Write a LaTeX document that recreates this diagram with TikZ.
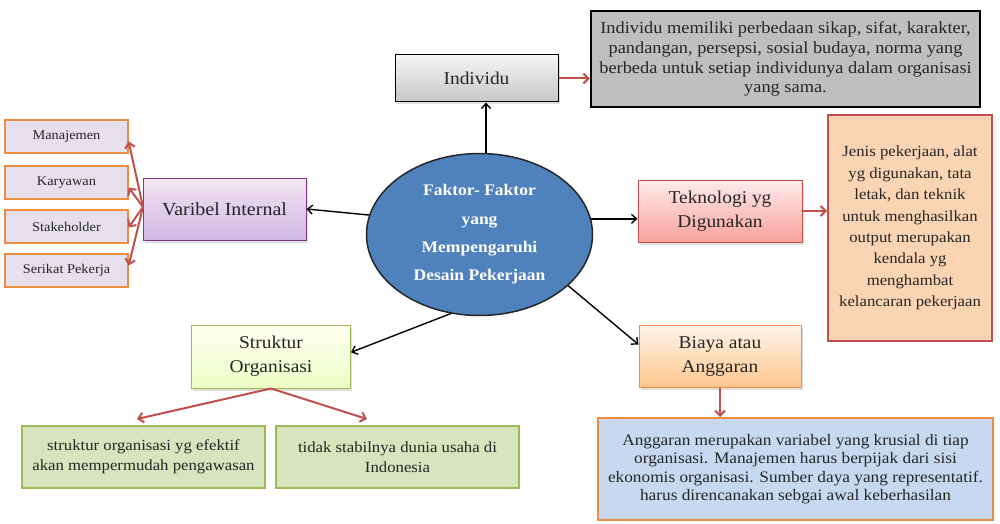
\documentclass[tikz,border=0pt]{standalone}
\usepackage{fontspec}
\setmainfont{Liberation Serif}[FakeStretch=1.08]
\usetikzlibrary{shapes.geometric,arrows.meta,shadows,calc}
\definecolor{redarr}{RGB}{192,80,77}
\definecolor{orbord}{RGB}{235,140,65}
\definecolor{lavfill}{RGB}{229,224,236}
\definecolor{peach}{RGB}{251,212,180}
\definecolor{lblue}{RGB}{198,217,241}
\definecolor{olive}{RGB}{155,187,89}
\definecolor{lgreen}{RGB}{215,228,189}
\definecolor{ellblue}{RGB}{79,129,189}
\tikzset{
  box/.style={rectangle, inner sep=2pt, align=center, text=black!85},
  shad/.style={drop shadow={opacity=0.25, shadow xshift=1.5pt, shadow yshift=-2.5pt}},
  smallbox/.style={box, draw=orbord, line width=1.3pt, fill=lavfill, minimum width=123pt, minimum height=33pt, font=\fontsize{13.3}{15}\selectfont},
  greenbox/.style={box, draw=olive, line width=1.4pt, fill=lgreen, minimum width=243pt, minimum height=62pt, font=\fontsize{15.5}{20}\selectfont},
  blk/.style={draw=black, line width=1.4pt, -{Straight Barb[length=5pt,width=9pt]}},
  red/.style={draw=redarr, line width=2pt, -{Straight Barb[length=5pt,width=10pt]}},
}
\begin{document}
\begin{tikzpicture}[x=1pt,y=-1pt]
\useasboundingbox (0,0) rectangle (1000,524);
\fill[white] (0,0) rectangle (1000,524);

% left small boxes
\node[smallbox] (mana) at (66.5,136.5) {Manajemen};
\node[smallbox] (kary) at (66.5,182.5) {Karyawan};
\node[smallbox] (stak) at (66.5,226.5) {Stakeholder};
\node[smallbox] (seri) at (66.5,270.5) {Serikat Pekerja};

% main boxes
\node[box, shad, draw=violet!55!gray, line width=1pt, top color=white!90!violet, bottom color=violet!22!white!92!blue, minimum width=163pt, minimum height=62pt, font=\fontsize{18.5}{23}\selectfont] (vi) at (224.5,209) {Varibel Internal};

\node[ellipse, draw=black!85, line width=1.5pt, fill=ellblue, minimum width=226pt, minimum height=162pt, inner sep=0pt, align=center, text=white, font=\bfseries\fontsize{16.2}{28.3}\selectfont] (ell) at (479.5,234.5) {Faktor- Faktor\\yang\\Mempengaruhi\\Desain Pekerjaan};

\node[box, shad, draw=black, line width=1pt, top color=gray!8, bottom color=gray!45, minimum width=163pt, minimum height=47pt, font=\fontsize{18}{20}\selectfont] (indiv) at (476.5,78.5) {Individu};

\node[box, draw=black, line width=2.4pt, fill=black!25, minimum width=389pt, minimum height=96pt, font=\fontsize{17}{19.7}\selectfont] (indtext) at (785.5,59) {Individu memiliki perbedaan sikap, sifat, karakter,\\pandangan, persepsi, sosial budaya, norma yang\\berbeda untuk setiap individunya dalam organisasi\\yang sama.};

\node[box, shad, draw=redarr, line width=1pt, top color=red!8!white, bottom color=red!35!white!90!brown, minimum width=164pt, minimum height=62pt, font=\fontsize{18}{24}\selectfont] (tek) at (720,211) {Teknologi yg\\Digunakan};

\node[box, draw=redarr, line width=2pt, fill=peach, minimum width=164pt, minimum height=225pt, font=\fontsize{15.5}{21.4}\selectfont] (jenis) at (910,228) {Jenis pekerjaan, alat\\yg digunakan, tata\\letak, dan teknik\\untuk menghasilkan\\output merupakan\\kendala yg\\menghambat\\kelancaran pekerjaan};

\node[box, shad, draw=orbord, line width=1pt, top color=orange!8!white, bottom color=orange!45!white, minimum width=162pt, minimum height=62pt, font=\fontsize{18}{24}\selectfont] (biaya) at (720,356) {Biaya atau\\Anggaran};

\node[box, draw=orbord, line width=2pt, fill=lblue, minimum width=395pt, minimum height=102pt, font=\fontsize{16}{18.5}\selectfont] (angg) at (795.5,469) {Anggaran merupakan variabel yang krusial di tiap\\organisasi. Manajemen harus berpijak dari sisi\\ekonomis organisasi. Sumber daya yang representatif.\\harus direncanakan sebgai awal keberhasilan};

\node[box, shad, draw=olive, line width=1pt, top color=green!4!yellow!6!white, bottom color=green!30!yellow!22!white, minimum width=159pt, minimum height=63pt, font=\fontsize{18}{24}\selectfont] (stru) at (271,356.5) {Struktur\\Organisasi};

\node[greenbox] (s1) at (143.5,457) {struktur organisasi yg efektif\\akan mempermudah pengawasan};
\node[greenbox] (s2) at (397.5,457) {tidak stabilnya dunia usaha di\\Indonesia};

% connectors from ellipse
\coordinate (top) at ($(ell.north)+(6.5,0)$);
\draw[blk] (top) -- (top |- indiv.south);
\draw[blk] (ell.170) -- (vi.east);
\draw[blk] (ell.8) -- (ell.8 -| tek.west);
\draw[blk] (ell.-30) -- (biaya.172);
\draw[blk] (ell.250) -- (stru.3);

% red connectors
\draw[red] (indiv.east) -- (indiv.east -| indtext.west);
\draw[red] (tek.east) -- (tek.east -| jenis.west);
\draw[red] (biaya.south) -- (biaya.south |- angg.north);
\coordinate (s1t) at (137,419);
\coordinate (s2t) at (367,419);
\draw[red] (stru.south) -- (s1t);
\draw[red] (stru.south) -- (s2t);
\coordinate (vil) at (143,207);
\draw[red] (vil) -- ($(mana.east)+(0,5)$);
\draw[red] (vil) -- ($(kary.east)+(0,5)$);
\draw[red] (vil) -- ($(stak.east)+(0,1)$);
\draw[red] (vil) -- ($(seri.east)+(0,-5)$);
\end{tikzpicture}
\end{document}
